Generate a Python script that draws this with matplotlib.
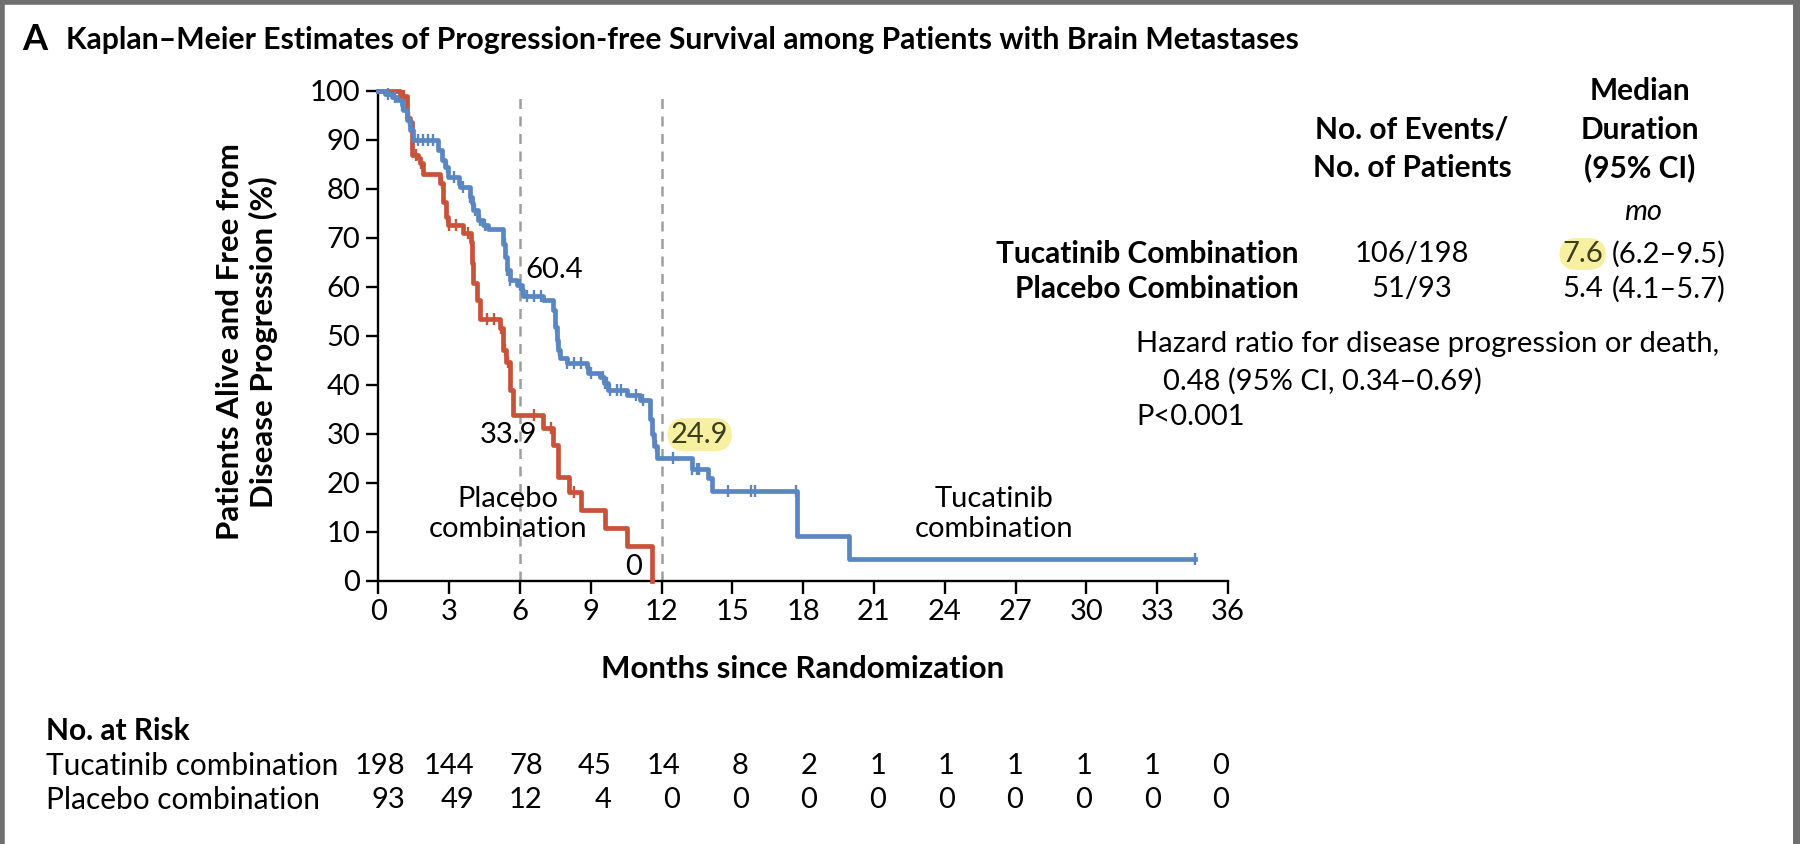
import matplotlib
matplotlib.use('Agg')
import matplotlib.pyplot as plt
from matplotlib.lines import Line2D
import numpy as np

plt.rcParams['font.family'] = ['Lato', 'DejaVu Sans']

# Kaplan-Meier curves (months, % free of progression)
tuc_t = [0, 0.28, 0.56, 0.78, 0.99, 1.06, 1.2, 1.34, 1.48, 2.54, 2.68, 2.82, 2.97, 3.4, 3.45,
         3.89, 3.96, 4.03, 4.24, 4.45, 4.66, 5.3, 5.37, 5.44, 5.58, 5.87, 6.07, 6.14, 6.99,
         7.42, 7.49, 7.56, 7.6, 7.63, 7.7, 8.0, 8.83, 8.9, 9.41, 9.55, 9.75, 10.52, 11.09,
         11.5, 11.6, 11.7, 11.8, 13.28, 13.97, 14.13, 17.74, 19.93, 34.6]
tuc_s = [100, 99.3, 98.8, 98.1, 97.1, 96.1, 94.0, 92.0, 89.9, 87.9, 85.9, 84.5, 82.4, 81.0, 80.3,
         78.4, 77.0, 75.6, 73.6, 72.6, 71.7, 68.8, 66.1, 63.4, 61.4, 60.3, 59.3, 58.1, 57.3,
         55.2, 51.8, 49.1, 48.4, 47.1, 45.4, 44.4, 43.7, 42.3, 41.6, 40.3, 39.0, 37.9, 36.9,
         33.0, 30.0, 27.5, 25.0, 22.7, 20.9, 18.4, 9.1, 4.35, 4.35]
tuc_cens = [0.4, 0.7, 1.0, 1.3, 1.7, 1.9, 2.1, 2.3, 2.9, 3.2, 3.6, 3.9, 4.0, 4.1, 4.3, 4.5,
            5.35, 5.45, 5.5, 5.6, 6.0, 6.1, 6.3, 6.6, 6.9, 7.52, 7.58, 7.62, 7.66, 8.0, 8.3,
            8.6, 9.0, 9.5, 9.6, 9.7, 9.8, 10.1, 10.3, 10.9, 11.2, 11.65, 11.75, 12.5, 13.3,
            13.5, 13.6, 14.8, 15.8, 15.95, 17.7, 34.6]

pla_t = [0, 0.9, 1.2, 1.34, 1.41, 1.69, 1.77, 1.91, 2.61, 2.75, 2.85, 2.97, 3.6, 3.91, 3.95,
         4.0, 4.17, 4.31, 5.16, 5.3, 5.4, 5.58, 5.72, 6.96, 7.42, 7.63, 8.09, 8.57, 9.6,
         10.52, 11.58]
pla_s = [100, 98.9, 94.4, 93.7, 86.9, 86.2, 85.2, 82.9, 81.1, 77.3, 74.3, 72.6, 70.9, 69.2,
         64.8, 60.7, 57.3, 53.5, 51.5, 47.1, 44.7, 38.9, 33.8, 31.1, 27.7, 21.2, 18.2, 14.4,
         10.7, 7.1, 0]
pla_cens = [1.0, 1.1, 1.3, 1.6, 1.8, 2.7, 2.9, 3.0, 3.3, 3.8, 4.6, 4.9, 5.2, 5.35, 5.5, 6.6,
            7.3, 8.3]

# No. at risk
risk_times = [0, 3, 6, 9, 12, 15, 18, 21, 24, 27, 30, 33, 36]
risk_tuc = [198, 144, 78, 45, 14, 8, 2, 1, 1, 1, 1, 1, 0]
risk_pla = [93, 49, 12, 4, 0, 0, 0, 0, 0, 0, 0, 0, 0]

blue = '#5a86c2'
red = '#c8523a'
W, H = 1800, 844
FS = 21     # body text
FB = 21.5   # bold table headers


def fx(px):
    return px / W


def fy(py):
    return 1 - py / H


def surv_at(times, surv, c):
    i = np.searchsorted(times, c, side='right') - 1
    return np.array(surv)[i]


fig = plt.figure(figsize=(18, 8.44), dpi=100)
ax = fig.add_axes([fx(378.3), fy(580.7), (1228 - 378.3) / W, 490 / H])

# dashed reference lines at 6 and 12 months
for m in [6, 12]:
    ax.plot([m, m], [0, 99.5], color='#9e9e9e', lw=1.8, ls=(0, (4, 3)), zorder=1)

ax.step(pla_t, pla_s, where='post', color=red, lw=3.4, zorder=3, clip_on=False)
ax.step(tuc_t, tuc_s, where='post', color=blue, lw=3.4, zorder=4, clip_on=False)
ax.plot(pla_cens, surv_at(pla_t, pla_s, pla_cens), ls='none', marker='|', ms=9, mew=1.7,
        color=red, zorder=3, clip_on=False)
ax.plot(tuc_cens, surv_at(tuc_t, tuc_s, tuc_cens), ls='none', marker='|', ms=9, mew=1.7,
        color=blue, zorder=4, clip_on=False)

ax.set_xlim(0, 36)
ax.set_ylim(0, 100)
ax.set_xticks(risk_times)
ax.set_yticks(range(0, 101, 10))
for s in ['top', 'right']:
    ax.spines[s].set_visible(False)
for s in ['left', 'bottom']:
    ax.spines[s].set_linewidth(1.7)
ax.tick_params(length=9, width=1.7, labelsize=21, pad=4)

# curve annotations
ax.text(6.25, 63.4, '60.4', fontsize=FS, ha='left', va='center')
ax.text(5.5, 29.8, '33.9', fontsize=FS, ha='center', va='center', zorder=5)
ax.text(12.4, 29.8, '24.9', fontsize=FS, ha='left', va='center', color='#3d3d20',
        bbox=dict(boxstyle='round,pad=0.12,rounding_size=0.6', fc='#f6f0a0', ec='none'))
ax.text(10.8, 2.8, '0', fontsize=FS, ha='center', va='center')
ax.text(5.5, 13.6, 'Placebo\ncombination', fontsize=FS, ha='center', va='center',
        linespacing=1.2)
ax.text(26.1, 13.6, 'Tucatinib\ncombination', fontsize=FS, ha='center', va='center',
        linespacing=1.2)

# axis labels
fig.text(fx(803), fy(669), 'Months since Randomization', fontsize=22.5, fontweight='bold',
         ha='center', va='center')
fig.text(fx(247), fy(342), 'Patients Alive and Free from\nDisease Progression (%)',
         fontsize=22.5, fontweight='bold', rotation=90, ha='center', va='center',
         multialignment='center', linespacing=1.2)

# title
fig.text(fx(22), fy(39), 'A', fontsize=26, fontweight='bold', ha='left', va='center')
fig.text(fx(66), fy(40), 'Kaplan–Meier Estimates of Progression-free Survival among Patients '
         'with Brain Metastases', fontsize=21.7, fontweight='bold', ha='left', va='center')

# summary table on the right
fig.text(fx(1640), fy(91), 'Median', fontsize=FB, fontweight='bold', ha='center', va='center')
fig.text(fx(1640), fy(130), 'Duration', fontsize=FB, fontweight='bold', ha='center', va='center')
fig.text(fx(1640), fy(168), '(95% CI)', fontsize=FB, fontweight='bold', ha='center', va='center')
fig.text(fx(1412), fy(130), 'No. of Events/', fontsize=FB, fontweight='bold', ha='center',
         va='center')
fig.text(fx(1412), fy(168), 'No. of Patients', fontsize=FB, fontweight='bold', ha='center',
         va='center')
fig.text(fx(1643), fy(212), 'mo', fontsize=FS, style='italic', ha='center', va='center')
fig.text(fx(1299), fy(254), 'Tucatinib Combination', fontsize=FB, fontweight='bold',
         ha='right', va='center')
fig.text(fx(1299), fy(289), 'Placebo Combination', fontsize=FB, fontweight='bold',
         ha='right', va='center')
fig.text(fx(1412), fy(254), '106/198', fontsize=FS, ha='center', va='center')
fig.text(fx(1412), fy(289), '51/93', fontsize=FS, ha='center', va='center')
fig.text(fx(1603), fy(254), '7.6', fontsize=FS, ha='right', va='center', color='#3d3d20',
         bbox=dict(boxstyle='round,pad=0.1,rounding_size=0.6', fc='#f6f0a0', ec='none'))
fig.text(fx(1726), fy(254), '(6.2–9.5)', fontsize=FS, ha='right', va='center')
fig.text(fx(1603), fy(289), '5.4', fontsize=FS, ha='right', va='center')
fig.text(fx(1726), fy(289), '(4.1–5.7)', fontsize=FS, ha='right', va='center')
fig.text(fx(1136), fy(344), 'Hazard ratio for disease progression or death,', fontsize=FS,
         ha='left', va='center')
fig.text(fx(1163), fy(381), '0.48 (95% CI, 0.34–0.69)', fontsize=FS, ha='left', va='center')
fig.text(fx(1136), fy(417), 'P<0.001', fontsize=FS, ha='left', va='center')

# number at risk table
fig.text(fx(46), fy(731), 'No. at Risk', fontsize=FB, fontweight='bold', ha='left', va='center')
fig.text(fx(46), fy(766), 'Tucatinib combination', fontsize=21.5, ha='left', va='center')
fig.text(fx(46), fy(800), 'Placebo combination', fontsize=21.5, ha='left', va='center')
tr = ax.get_xaxis_transform()
for t, a, b in zip(risk_times, risk_tuc, risk_pla):
    xr = t + 1.15 * (1 - t / 38)
    ax.text(xr, (580.7 - 766) / 490, str(a), transform=tr, fontsize=FS, ha='right',
            va='center', clip_on=False)
    ax.text(xr, (580.7 - 800) / 490, str(b), transform=tr, fontsize=FS, ha='right',
            va='center', clip_on=False)

# grey frame (left, top, right)
fc = '#6f6f6f'
fig.add_artist(Line2D([0.001, 0.001], [0, 1], transform=fig.transFigure, color=fc, lw=4))
fig.add_artist(Line2D([0, 1], [0.998, 0.998], transform=fig.transFigure, color=fc, lw=4))
fig.add_artist(Line2D([0.998, 0.998], [0, 1], transform=fig.transFigure, color=fc, lw=5))

fig.savefig('out.png', dpi=100)
